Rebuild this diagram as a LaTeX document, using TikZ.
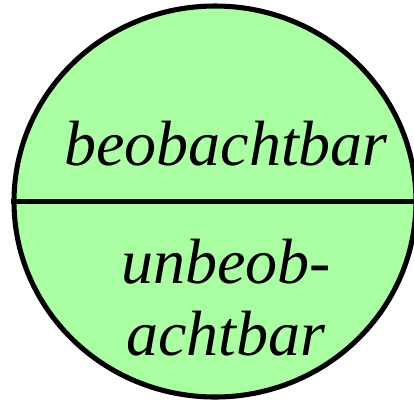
\documentclass[tikz,border=0pt]{standalone}
\usepackage{fontspec}
\setmainfont{Liberation Serif}
\usetikzlibrary{shapes.geometric,positioning}
\definecolor{zustand}{RGB}{170,255,163}
\tikzset{label text/.style={font=\fontsize{48}{54}\selectfont\itshape, inner sep=0pt, align=center}}

\begin{document}
\begin{tikzpicture}[x=0.75pt,y=-0.75pt]
\useasboundingbox (0,0) rectangle (414,401);
\clip (0,0) rectangle (414,401);

% Zustand
\node[ellipse, draw, line width=3.8pt, fill=zustand, minimum width=301.5pt, minimum height=293.25pt, inner sep=0pt] (state) at (215,201.5) {};
\draw[-, line width=3.8pt] (state.west) -- (state.east);

% Texte
\node[label text, anchor=base] (obs) at (226,165) {beobachtbar};
\node[label text, anchor=base] (unobs) at (226,355) {unbeob-\\achtbar};

\end{tikzpicture}
\end{document}
